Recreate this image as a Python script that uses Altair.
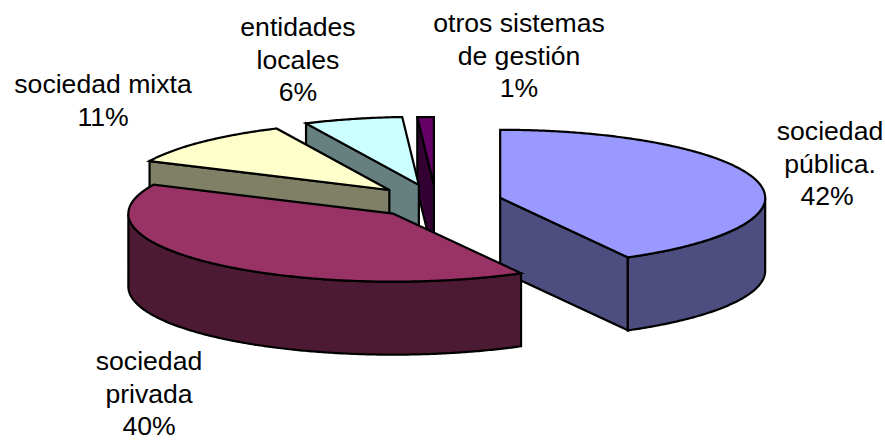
import numpy as np
import pandas as pd
import altair as alt

# Share of each management model
categories = ["sociedad pública.", "sociedad privada", "sociedad mixta", "entidades locales", "otros sistemas de gestión"]
values = [42, 40, 11, 6, 1]
top_colors = ["#9999FF", "#993366", "#FFFFCC", "#CCFFFF", "#660066"]
side_colors = ["#4D4D80", "#4D1A33", "#808066", "#668080", "#330033"]

# Label lines for each slice, the percentage is appended from the values
label_lines = [["sociedad", "pública."], ["sociedad", "privada"], ["sociedad mixta"], ["entidades", "locales"], ["otros sistemas", "de gestión"]]
label_x = [830, 149, 103, 298, 519]
label_y = [132, 362, 85, 28, 24]
percent_dx = [-3, 0, 0, 0, 0]
LINE_STEP = 32.5
FONT_SIZE = 26.6

# Pie projection: centre, radii of the tilted ellipse, extrusion and per-slice explosion
CX, CY = 436.0, 202.0
RX, RY = 265.0, 68.0
DEPTH = 73.0
explode = [0.25, 0.235, 0.249, 0.26, 0.25]


def edge(cx, cy, deg, drop=0.0):
    rad = np.radians(deg)
    return cx + RX * np.sin(rad), cy - RY * np.cos(rad) + drop


def arc(cx, cy, a0, a1, drop=0.0):
    n = max(2, int(abs(a1 - a0) * 2))
    return [edge(cx, cy, a, drop) for a in np.linspace(a0, a1, n)]


def polygon(points, fill):
    frame = pd.DataFrame(points, columns=["x", "y"])
    frame["i"] = range(len(frame))
    return (
        alt.Chart(frame)
        .mark_line(interpolate="linear-closed", fill=fill, stroke="black", strokeWidth=2.2, clip=False)
        .encode(
            x=alt.X("x:Q", scale=alt.Scale(domain=[0, 885], nice=False, zero=False), axis=None),
            y=alt.Y("y:Q", scale=alt.Scale(domain=[440, 0], nice=False, zero=False), axis=None),
            order="i:Q",
        )
    )


# Slice angles and exploded centres, derived from the values
bounds = np.concatenate([[0], np.cumsum(values)]) * 3.6
slices = []
for k in range(len(values)):
    a0, a1 = bounds[k], bounds[k + 1]
    mid = np.radians((a0 + a1) / 2)
    cx = CX + explode[k] * RX * np.sin(mid)
    cy = CY - explode[k] * RY * np.cos(mid)
    slices.append((a0, a1, cx, cy))


def top_face(k):
    a0, a1, cx, cy = slices[k]
    return polygon([(cx, cy)] + arc(cx, cy, a0, a1), top_colors[k])


def radial_face(k, deg):
    _, _, cx, cy = slices[k]
    outer = edge(cx, cy, deg)
    outer_low = edge(cx, cy, deg, DEPTH)
    return polygon([(cx, cy), outer, outer_low, (cx, cy + DEPTH)], side_colors[k])


def rim_face(k, a0, a1):
    _, _, cx, cy = slices[k]
    return polygon(arc(cx, cy, a0, a1) + arc(cx, cy, a1, a0, DEPTH), side_colors[k])


# Painted back to front
layers = []
for k in (4, 3, 2):
    layers += [radial_face(k, slices[k][0]), top_face(k)]
layers += [radial_face(0, slices[0][1]), rim_face(0, 90, slices[0][1]), top_face(0)]
layers += [rim_face(1, slices[1][0], 270), top_face(1)]

rows = []
for k, lines in enumerate(label_lines):
    for j, line in enumerate(lines):
        rows.append({"text": line, "x": label_x[k], "y": label_y[k] + j * LINE_STEP})
    rows.append({"text": f"{values[k]}%", "x": label_x[k] + percent_dx[k], "y": label_y[k] + len(lines) * LINE_STEP})

labels = (
    alt.Chart(pd.DataFrame(rows))
    .mark_text(font="Liberation Sans", fontSize=FONT_SIZE, color="black", align="center", baseline="middle")
    .encode(
        x=alt.X("x:Q", scale=alt.Scale(domain=[0, 885], nice=False, zero=False), axis=None),
        y=alt.Y("y:Q", scale=alt.Scale(domain=[440, 0], nice=False, zero=False), axis=None),
        text="text:N",
    )
)

chart = (
    alt.layer(*layers, labels)
    .properties(width=885, height=440, padding=0, autosize=alt.AutoSizeParams(type="none"), background="white")
    .configure_view(stroke=None)
)

chart.save("out.html", embed_options={"renderer": "svg", "actions": False})
